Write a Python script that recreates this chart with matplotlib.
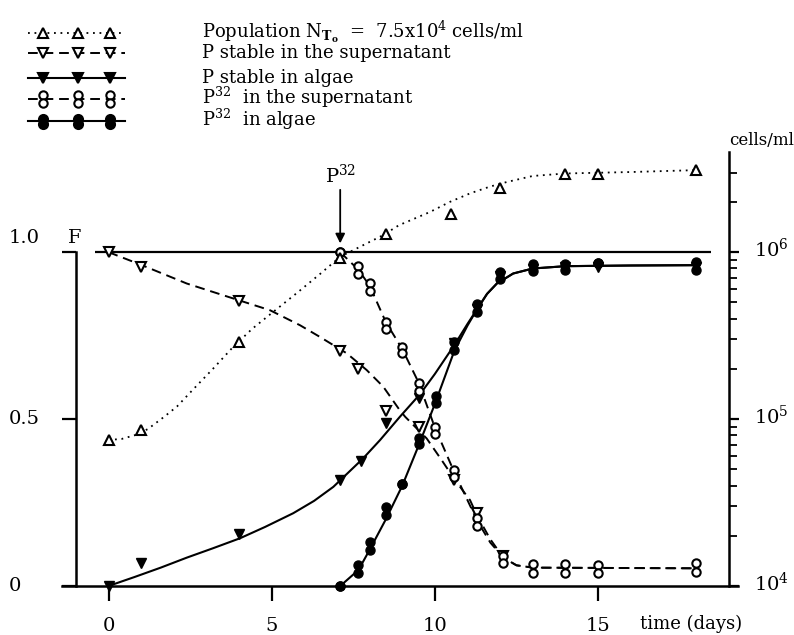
import matplotlib
matplotlib.use('Agg')
import matplotlib.pyplot as plt
import matplotlib.transforms as mtransforms
import numpy as np
from matplotlib.lines import Line2D
from matplotlib.ticker import LogLocator, NullFormatter

plt.rcParams['font.family'] = 'DejaVu Serif'
plt.rcParams['mathtext.fontset'] = 'dejavuserif'

# Algal population (cells/ml, right log axis)
pop_days = [0, 1, 4, 7.1, 8.5, 10.5, 12, 14, 15, 18]
pop_cells = [7.5e4, 8.6e4, 2.9e5, 9.2e5, 1.28e6, 1.69e6, 2.43e6, 2.92e6, 2.93e6, 3.1e6]
pop_fit_days = [0, 0.4, 0.8, 1.2, 1.7, 2.1, 2.6, 3.2, 3.8, 4.4, 5.05, 5.8, 6.5, 7.1,
                7.8, 8.4, 8.9, 9.85, 10.46, 11.08, 11.69, 12.2, 13.0, 14.0, 16.0, 18.0]
pop_fit_cells = [7.5e4, 7.6e4, 8.0e4, 8.7e4, 1.03e5, 1.19e5, 1.51e5, 2.0e5, 2.68e5, 3.47e5,
                 4.39e5, 5.75e5, 7.45e5, 9.38e5, 1.10e6, 1.26e6, 1.45e6, 1.74e6, 2.0e6,
                 2.25e6, 2.47e6, 2.63e6, 2.86e6, 2.96e6, 3.02e6, 3.1e6]

# Stable P fraction in the supernatant
stable_sup_days = [0, 1, 4, 7.1, 7.65, 8.5, 9.5, 10.6, 11.3, 12.1]
stable_sup = [1.0, 0.956, 0.853, 0.705, 0.649, 0.524, 0.477, 0.317, 0.22, 0.09]
stable_sup_fit_days = [0, 1, 2.4, 3.8, 4.95, 5.87, 6.48, 7.3, 7.91, 8.42, 8.9, 9.09,
                       9.75, 10.21, 10.62, 11.08, 11.3, 11.7, 12.1, 12.5, 13.0, 18.0]
stable_sup_fit = [1.0, 0.962, 0.906, 0.862, 0.826, 0.781, 0.746, 0.697, 0.647, 0.597,
                  0.53, 0.507, 0.442, 0.377, 0.317, 0.257, 0.21, 0.14, 0.085, 0.062,
                  0.055, 0.053]

# Stable P fraction in algae
stable_alg_days = [0, 1, 4, 7.1, 7.75, 8.5, 9.5, 10.6, 11.3, 12, 13, 14, 15, 18]
stable_alg = [0.0, 0.07, 0.156, 0.317, 0.375, 0.489, 0.562, 0.727, 0.83, 0.93, 0.95,
              0.955, 0.956, 0.955]
stable_alg_fit_days = [0, 0.8, 1.6, 2.4, 3.2, 4.03, 4.8, 5.66, 6.3, 6.89, 7.8, 8.32,
                       8.93, 9.55, 10.0, 10.6, 11.0, 11.3, 11.6, 11.9, 12.4, 13.0,
                       14.0, 16.0, 18.0]
stable_alg_fit = [0.0, 0.027, 0.055, 0.085, 0.113, 0.143, 0.177, 0.218, 0.255, 0.297,
                  0.382, 0.437, 0.507, 0.575, 0.635, 0.722, 0.785, 0.83, 0.875, 0.906,
                  0.936, 0.951, 0.958, 0.96, 0.961]

# P32 in the supernatant (duplicate samples)
p32_sup_days = [7.1, 7.65, 8.0, 8.5, 9.0, 9.5, 10.0, 10.6, 11.3, 12.1, 13, 14, 15, 18]
p32_sup_a = [1.0, 0.958, 0.908, 0.791, 0.715, 0.609, 0.477, 0.347, 0.203, 0.091,
             0.065, 0.065, 0.063, 0.068]
p32_sup_b = [1.0, 0.934, 0.883, 0.769, 0.697, 0.585, 0.454, 0.327, 0.180, 0.068,
             0.038, 0.038, 0.038, 0.043]
p32_sup_fit_days = [7.1, 7.65, 8.0, 8.5, 9.0, 9.5, 10.0, 10.6, 11.3, 11.7, 12.1, 12.5,
                    13.0, 18.0]
p32_sup_fit = [1.0, 0.948, 0.9, 0.79, 0.71, 0.61, 0.475, 0.34, 0.195, 0.13, 0.085,
               0.062, 0.055, 0.053]

# P32 in algae (duplicate samples)
p32_alg_days = [7.1, 7.65, 8.0, 8.5, 9.0, 9.5, 10.05, 10.6, 11.3, 12.0, 13, 14, 15, 18]
p32_alg_a = [0.0, 0.063, 0.133, 0.237, 0.305, 0.442, 0.569, 0.731, 0.846, 0.941,
             0.964, 0.966, 0.968, 0.971]
p32_alg_b = [0.0, 0.040, 0.108, 0.213, 0.305, 0.425, 0.547, 0.707, 0.821, 0.921,
             0.943, 0.948, 0.968, 0.946]
p32_alg_fit_days = [7.1, 7.66, 8.0, 8.5, 9.0, 9.5, 10.0, 10.3, 10.6, 11.0, 11.3, 11.6,
                    11.9, 12.4, 13.0, 14.0, 16.0, 18.0]
p32_alg_fit = [0.0, 0.048, 0.108, 0.2, 0.3, 0.42, 0.545, 0.625, 0.705, 0.78, 0.83,
               0.875, 0.906, 0.936, 0.951, 0.958, 0.96, 0.961]

x_ticks = [0, 5, 10, 15]
f_ticks = [0, 0.5, 1.0]
f_labels = ['0', '0.5', '1.0']
p32_day = 7.1

W, H = 794, 635
fig = plt.figure(figsize=(W / 100, H / 100), dpi=100)
ax = fig.add_axes([62 / W, 49 / H, 676 / W, 434 / H])
ax.set_xlim(-1.425, 19.29)
ax.set_ylim(0, 1.3)

ax2 = ax.twinx()
ax2.set_yscale('log')
ax2.set_ylim(1e4, 1e4 * 100 ** 1.3)

dotted = (0, (1, 2.6))
dashed = (0, (5, 3))

# fitted curves
ax.plot(stable_sup_fit_days, stable_sup_fit, color='k', lw=1.4, ls=dashed, zorder=2)
ax.plot(p32_sup_fit_days, p32_sup_fit, color='k', lw=1.4, ls=dashed, zorder=2)
ax.plot(stable_alg_fit_days, stable_alg_fit, color='k', lw=1.5, zorder=2)
ax.plot(p32_alg_fit_days, p32_alg_fit, color='k', lw=1.5, zorder=2)
ax.hlines(1.0, -0.4, 18.45, color='k', lw=1.6, zorder=2)

# measured points
pt = dict(ls='none', color='k', clip_on=False, zorder=3)
ax.plot(stable_alg_days, stable_alg, marker='v', ms=7.5, **pt)
ax.plot(stable_sup_days, stable_sup, marker='v', ms=6.5, mfc='white', mew=1.5, **pt)
ax.plot(p32_sup_days, p32_sup_a, marker='o', ms=6, mfc='white', mew=1.5, **pt)
ax.plot(p32_sup_days, p32_sup_b, marker='o', ms=6, mfc='white', mew=1.5, **pt)
ax.plot(p32_alg_days, p32_alg_a, marker='o', ms=6.5, **pt)
ax.plot(p32_alg_days, p32_alg_b, marker='o', ms=6.5, **pt)

ax2.plot(pop_fit_days, pop_fit_cells, color='k', lw=1.3, ls=dotted, zorder=2)
ax2.plot(pop_days, pop_cells, marker='^', ms=6.5, mfc='white', mew=1.5, **pt)

# P32 addition arrow
ax.annotate('', xy=(p32_day, 1.018), xytext=(p32_day, 1.195),
            arrowprops=dict(arrowstyle='-|>', lw=1.3, color='k', mutation_scale=14),
            annotation_clip=False)
ax.text(p32_day, 1.207, r'P$^{32}$', ha='center', va='baseline', fontsize=14)

# axes styling
for s in ['top', 'right']:
    ax.spines[s].set_visible(False)
ax.spines['left'].set_position(('data', -1.0))
ax.spines['left'].set_bounds(0, 1.0)
ax.spines['left'].set_linewidth(1.8)
ax.spines['bottom'].set_linewidth(1.8)
ax.set_xticks(x_ticks)
ax.set_xticklabels([str(t) for t in x_ticks])
ax.tick_params(axis='x', direction='out', length=11, width=1.6, pad=11, labelsize=14)
ax.set_yticks(f_ticks)
ax.set_yticklabels([])
ax.tick_params(axis='y', direction='out', length=10, width=1.6)
for val, lab in zip(f_ticks, f_labels):
    off = 0.042 if val == 1.0 else 0.0
    ax.text(-3.05, val + off, lab, ha='left', va='center', fontsize=14, clip_on=False)
ax.text(-1.03, 1.042, 'F', ha='center', va='center', fontsize=14)
ax.text(17.85, -0.114, 'time (days)', ha='center', va='center', fontsize=13)

for s in ['top', 'left', 'bottom']:
    ax2.spines[s].set_visible(False)
ax2.spines['right'].set_position(('data', 19.0))
ax2.spines['right'].set_bounds(1e4, 1e4 * 100 ** 1.3)
ax2.spines['right'].set_linewidth(1.8)
ax2.yaxis.set_major_locator(LogLocator(base=10, numticks=10))
ax2.yaxis.set_minor_locator(LogLocator(base=10, subs=np.arange(2, 10), numticks=10))
ax2.yaxis.set_minor_formatter(NullFormatter())
ax2.tick_params(axis='y', which='major', direction='out', length=7.5, width=1.6,
                pad=11, labelsize=14)
ax2.tick_params(axis='y', which='minor', direction='out', length=6, width=1.3)
lift = mtransforms.ScaledTranslation(0, 5 / 100, fig.dpi_scale_trans)
for lab in ax2.get_yticklabels():
    lab.set_transform(lab.get_transform() + lift)
ax.text(20.0, 1.335, 'cells/ml', ha='center', va='center', fontsize=12)

# legend drawn by hand in figure pixels
def fx(x):
    return x / W


def fy(y):
    return 1 - y / H


leg_x = [28, 43, 78, 110, 125]
mark_x = leg_x[1:4]
rows = [
    dict(y=33, ls=dotted, lw=1.3, marker='^', ms=6.5, mfc='white', dy=[0],
         text=r'Population N$_{\mathbf{T_o}}$  =  7.5x10$^4$ cells/ml'),
    dict(y=53, ls=dashed, lw=1.4, marker='v', ms=6.5, mfc='white', dy=[0],
         text='P stable in the supernatant'),
    dict(y=78, ls='-', lw=1.5, marker='v', ms=7.5, mfc='k', dy=[0],
         text='P stable in algae'),
    dict(y=99, ls=dashed, lw=1.4, marker='o', ms=6, mfc='white', dy=[-4, 4],
         text=r'P$^{32}$  in the supernatant'),
    dict(y=121, ls='-', lw=1.5, marker='o', ms=6.5, mfc='k', dy=[-2.5, 2.5],
         text=r'P$^{32}$  in algae'),
]
for r in rows:
    fig.add_artist(Line2D([fx(x) for x in leg_x], [fy(r['y'])] * 5, color='k',
                          ls=r['ls'], lw=r['lw']))
    for dy in r['dy']:
        fig.add_artist(Line2D([fx(x) for x in mark_x], [fy(r['y'] + dy)] * 3,
                              ls='none', marker=r['marker'], ms=r['ms'], color='k',
                              mfc=r['mfc'], mew=1.5))
    fig.text(fx(202), fy(r['y'] + 5), r['text'], ha='left', va='baseline', fontsize=13)

fig.savefig('out.png', dpi=100)
